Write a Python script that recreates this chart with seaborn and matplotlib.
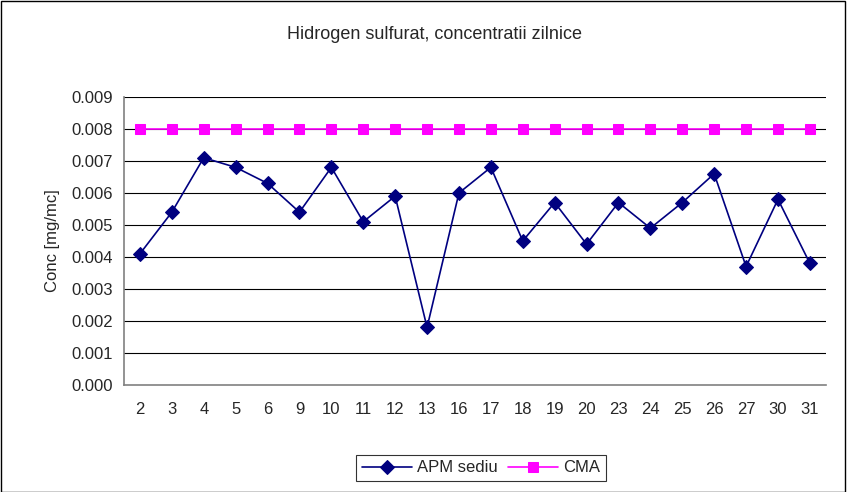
import numpy as np
import pandas as pd
import matplotlib
matplotlib.use("Agg")
import matplotlib.pyplot as plt
import seaborn as sns

# data
zile = ["2", "3", "4", "5", "6", "9", "10", "11", "12", "13", "16", "17",
        "18", "19", "20", "23", "24", "25", "26", "27", "30", "31"]
apm_sediu = [0.0041, 0.0054, 0.0071, 0.0068, 0.0063, 0.0054, 0.0068, 0.0051,
             0.0059, 0.0018, 0.0060, 0.0068, 0.0045, 0.0057, 0.0044, 0.0057,
             0.0049, 0.0057, 0.0066, 0.0037, 0.0058, 0.0038]
cma = [0.008] * len(zile)
y_ticks = [0.000, 0.001, 0.002, 0.003, 0.004, 0.005, 0.006, 0.007, 0.008, 0.009]

sns.set_style("white")
plt.rcParams["font.family"] = ["Liberation Sans", "DejaVu Sans"]

df = pd.DataFrame({"pos": np.arange(len(zile)), "APM sediu": apm_sediu, "CMA": cma})

fig = plt.figure(figsize=(8.47, 4.92), dpi=100)
ax = fig.add_axes([0.1464, 0.2175, 0.8286, 0.5855])

# outer frame of the chart
fig.patches.append(plt.Rectangle((0.001, 0.001), 0.997, 0.997, transform=fig.transFigure,
                                 fill=False, edgecolor="black", linewidth=1))

for y in y_ticks[1:]:
    ax.axhline(y, color="black", linewidth=0.8, zorder=1)

sns.lineplot(data=df, x="pos", y="CMA", ax=ax, color="#FF00FF", marker="s",
             markersize=6.5, markeredgecolor="#FF00FF", linewidth=1.2,
             legend=False, zorder=3)
sns.lineplot(data=df, x="pos", y="APM sediu", ax=ax, color="#000080", marker="D",
             markersize=7, markeredgecolor="#000080", linewidth=1.2,
             legend=False, zorder=4)

ax.set_xlim(-0.5, len(zile) - 0.5)
ax.set_ylim(0, 0.009)
ax.set_xticks(np.arange(len(zile)))
ax.set_xticklabels(zile)
ax.set_xticks(np.arange(len(zile) + 1) - 0.5, minor=True)
ax.tick_params(axis="x", which="major", length=0, pad=12, labelsize=12)
ax.tick_params(axis="x", which="minor", length=5, width=1, color="#808080", direction="out")
ax.set_yticks(y_ticks)
ax.set_yticklabels([f"{v:.3f}" for v in y_ticks])
ax.tick_params(axis="y", length=5, width=1, color="#808080", direction="out", labelsize=12, pad=3)

for side in ["top", "right"]:
    ax.spines[side].set_visible(False)
for side in ["left", "bottom"]:
    ax.spines[side].set_color("#808080")
    ax.spines[side].set_linewidth(1.2)

ax.set_xlabel("")
ax.set_ylabel("Conc [mg/mc]", fontsize=12, labelpad=8)
fig.text(0.513, 0.929, "Hidrogen sulfurat, concentratii zilnice", ha="center", va="center", fontsize=13)

lines = ax.get_lines()
leg_handles = [lines[-1], lines[-2]]
leg = fig.legend(leg_handles, ["APM sediu", "CMA"],
                 loc="center", bbox_to_anchor=(0.568, 0.049), ncol=2, frameon=True,
                 fancybox=False, edgecolor="black", fontsize=12,
                 handlelength=3, columnspacing=0.6, handletextpad=0.3, borderpad=0.35)
leg.get_frame().set_linewidth(0.8)

plt.savefig("out.png", dpi=100)
